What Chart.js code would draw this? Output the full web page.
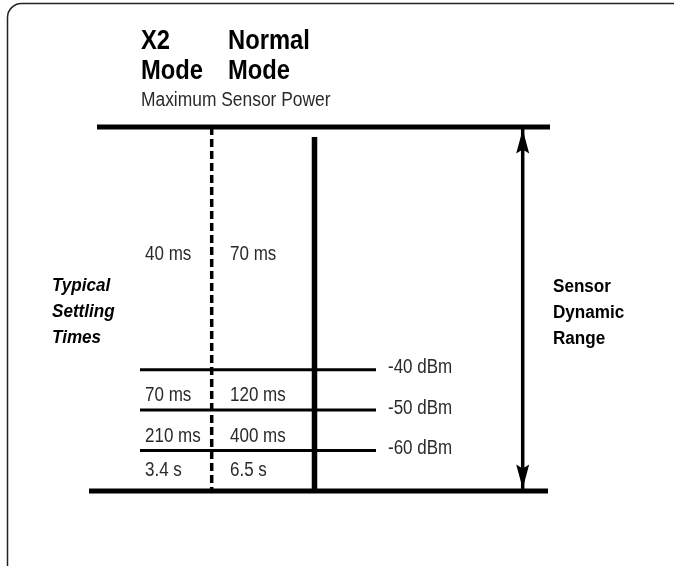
<!DOCTYPE html>
<html>
<head>
<meta charset="utf-8">
<script src="https://cdn.jsdelivr.net/npm/chart.js@4/dist/chart.umd.min.js"></script>
<style>
  html, body { margin: 0; padding: 0; background: #ffffff; }
  #wrap { width: 674px; height: 566px; }
</style>
</head>
<body>
<div id="wrap"><canvas id="c" width="674" height="566"></canvas></div>
<script>
// ---- data ----
const maxPower = 20;          // dBm, top of sensor dynamic range
const minPower = -70;         // dBm, bottom of sensor dynamic range
const levels = [-40, -50, -60];
const levelLabels = ['-40 dBm', '-50 dBm', '-60 dBm'];
const x2Times = ['40 ms', '70 ms', '210 ms', '3.4 s'];
const normalTimes = ['70 ms', '120 ms', '400 ms', '6.5 s'];
const headerX2 = ['X2', 'Mode'];
const headerNormal = ['Normal', 'Mode'];
const topCaption = 'Maximum Sensor Power';
const leftCaption = ['Typical', 'Settling', 'Times'];
const rightCaption = ['Sensor', 'Dynamic', 'Range'];

// ---- layout (horizontal positions on a 0..674 diagram axis) ----
const L = {
  rangeLeft: 97, rangeRight: 550,
  bottomLeft: 89, bottomRight: 548,
  levelLeft: 140, levelRight: 376,
  x2Col: 211.7, normalCol: 314.5, arrowX: 522.7,
  textLeft: 145, textRight: 230, dbmX: 388,
  leftCapX: 52, rightCapX: 553, headX2: 141, headNormal: 228
};

const datasets = [];
datasets.push({ data: [{x: L.rangeLeft, y: maxPower}, {x: L.rangeRight, y: maxPower}], borderWidth: 5 });
datasets.push({ data: [{x: L.bottomLeft, y: minPower}, {x: L.bottomRight, y: minPower}], borderWidth: 5 });
levels.forEach(v => datasets.push({ data: [{x: L.levelLeft, y: v}, {x: L.levelRight, y: v}], borderWidth: 3 }));
datasets.push({ data: [{x: L.x2Col, y: maxPower}, {x: L.x2Col, y: minPower}], borderWidth: 3.5, borderDash: [8, 4] });
datasets.push({ data: [{x: L.normalCol, y: maxPower - 2.5}, {x: L.normalCol, y: minPower}], borderWidth: 5.5 });
datasets.push({ data: [{x: L.arrowX, y: maxPower}, {x: L.arrowX, y: minPower}], borderWidth: 3.5 });
datasets.forEach(d => { d.borderColor = '#000'; d.pointRadius = 0; d.clip = false; d.borderCapStyle = 'butt'; d.fill = false; d.tension = 0; });

function narrow(ctx, text, x, y, sx) {
  ctx.save();
  ctx.translate(x, y);
  ctx.scale(sx, 1);
  ctx.fillText(text, 0, 0);
  ctx.restore();
}

const decor = {
  id: 'decor',
  beforeDraw(chart) {
    const ctx = chart.ctx;
    ctx.save();
    ctx.fillStyle = '#fff';
    ctx.fillRect(0, 0, chart.width, chart.height);
    ctx.strokeStyle = '#222';
    ctx.lineWidth = 1.5;
    ctx.beginPath();
    ctx.roundRect(7.5, 3.5, 720, 620, 14);
    ctx.stroke();
    ctx.restore();
  },
  afterDraw(chart) {
    const ctx = chart.ctx;
    const xs = chart.scales.x, ys = chart.scales.y;
    const yTop = ys.getPixelForValue(maxPower);
    const yBot = ys.getPixelForValue(minPower);
    const ax = xs.getPixelForValue(L.arrowX);
    ctx.save();
    // arrowheads
    ctx.fillStyle = '#000';
    const head = (tipY, dir) => {
      ctx.beginPath();
      ctx.moveTo(ax, tipY);
      ctx.lineTo(ax - 6.5, tipY + dir * 24);
      ctx.lineTo(ax, tipY + dir * 20);
      ctx.lineTo(ax + 6.5, tipY + dir * 24);
      ctx.closePath();
      ctx.fill();
    };
    head(yTop + 2.5, 1);
    head(yBot - 2.5, -1);

    // headers
    ctx.fillStyle = '#000';
    ctx.textBaseline = 'alphabetic';
    ctx.textAlign = 'left';
    ctx.font = 'bold 27px "Liberation Sans", Arial, sans-serif';
    headerX2.forEach((t, i) => narrow(ctx, t, L.headX2, 49 + i * 30, 0.88));
    headerNormal.forEach((t, i) => narrow(ctx, t, L.headNormal, 49 + i * 30, 0.88));
    ctx.fillStyle = '#2a2a2a';
    ctx.font = '20px "Liberation Sans", Arial, sans-serif';
    narrow(ctx, topCaption, L.headX2, 106, 0.87);

    // side captions
    ctx.fillStyle = '#000';
    ctx.font = 'italic bold 18px "Liberation Sans", Arial, sans-serif';
    leftCaption.forEach((t, i) => narrow(ctx, t, L.leftCapX, 291 + i * 26, 0.95));
    ctx.font = 'bold 18px "Liberation Sans", Arial, sans-serif';
    rightCaption.forEach((t, i) => narrow(ctx, t, L.rightCapX, 292 + i * 26, 0.95));

    // settling times per row
    const bounds = [maxPower].concat(levels).concat([minPower]);
    ctx.fillStyle = '#2a2a2a';
    ctx.font = '20px "Liberation Sans", Arial, sans-serif';
    ctx.textBaseline = 'middle';
    for (let i = 0; i < x2Times.length; i++) {
      const a = ys.getPixelForValue(bounds[i]), b = ys.getPixelForValue(bounds[i + 1]);
      const y = Math.min((a + b) / 2 + 6, yBot - 21);
      narrow(ctx, x2Times[i], xs.getPixelForValue(L.textLeft), y, 0.85);
      narrow(ctx, normalTimes[i], xs.getPixelForValue(L.textRight), y, 0.85);
    }
    // dBm level labels
    levels.forEach((v, i) => {
      narrow(ctx, levelLabels[i], xs.getPixelForValue(L.dbmX), ys.getPixelForValue(v) - 2, 0.85);
    });
    ctx.restore();
  }
};

new Chart(document.getElementById('c'), {
  type: 'line',
  data: { datasets },
  options: {
    responsive: false,
    animation: false,
    devicePixelRatio: 1,
    layout: { padding: { top: 127, bottom: 75, left: 0, right: 0 } },
    scales: {
      x: { type: 'linear', min: 0, max: 674, display: false },
      y: { type: 'linear', min: minPower, max: maxPower, display: false }
    },
    plugins: { legend: { display: false }, tooltip: { enabled: false }, title: { display: false } }
  },
  plugins: [decor]
});
</script>
</body>
</html>
